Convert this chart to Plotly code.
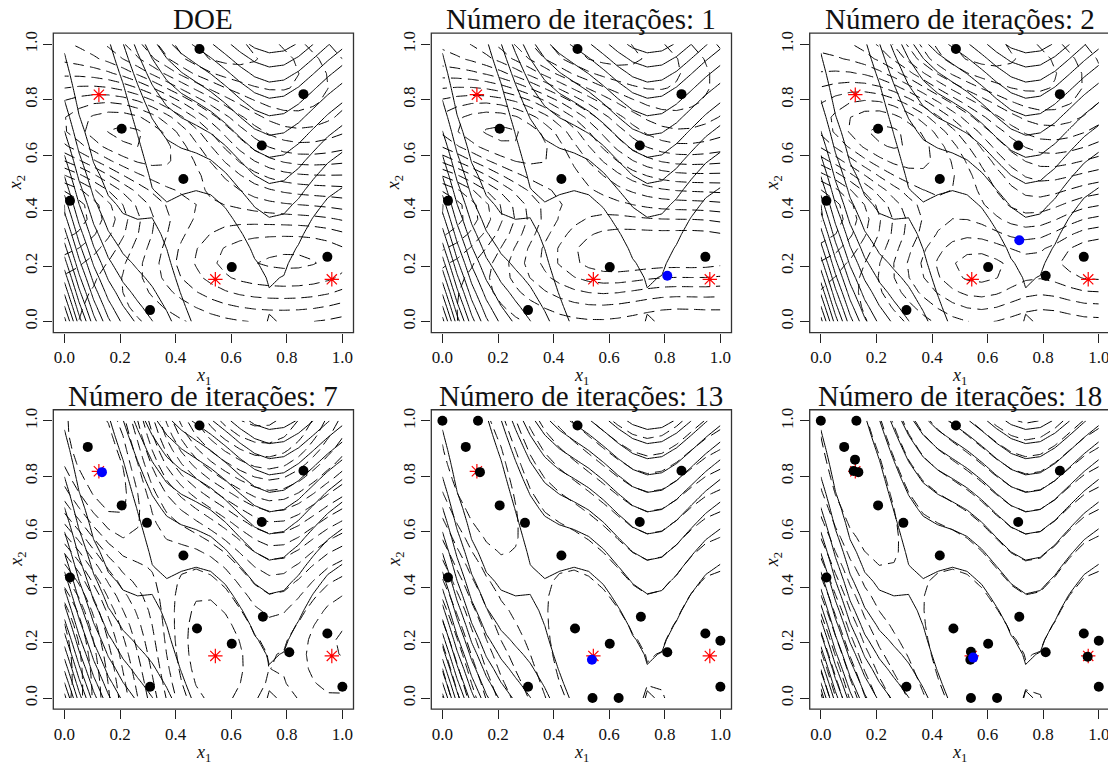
import numpy as np
import plotly.graph_objects as go

# ---------------- data ----------------
# initial design (9-point LHS)
doe_x1 = [0.486, 0.860, 0.206, 0.710, 0.428, 0.020, 0.602, 0.946, 0.308]
doe_x2 = [0.983, 0.820, 0.695, 0.635, 0.514, 0.435, 0.196, 0.233, 0.041]
# points added by EGO, in the order of the iterations
added_x1 = [0.809, 0.714, 0.084, 0.297, 0.477, 1.000, 0.135,
            0.000, 0.128, 1.000, 0.540, 0.634, 0.538,
            0.123, 0.118, 0.540, 0.960, 0.548]
added_x2 = [0.165, 0.293, 0.906, 0.632, 0.251, 0.041, 0.815,
            1.000, 1.000, 0.207, 0.000, 0.000, 0.138,
            0.860, 0.819, 0.167, 0.149, 0.146]
# global minima of the (scaled) Branin function
min_x1 = [0.124, 0.543, 0.962]
min_x2 = [0.818, 0.152, 0.152]
# iterations shown in each panel
iterations = [0, 1, 2, 7, 13, 18]
titles = ["DOE", "Número de iterações: 1", "Número de iterações: 2",
          "Número de iterações: 7", "Número de iterações: 13", "Número de iterações: 18"]
# contour spacing of the true function (solid) and of the kriging model (dashed)
true_level_step = 20
model_level_step = [10, 10, 10, 10, 20, 20]
tick_vals = [0.0, 0.2, 0.4, 0.6, 0.8, 1.0]
tick_text = ["0.0", "0.2", "0.4", "0.6", "0.8", "1.0"]
N_GRID = 20


# ---------------- model ----------------
def branin(x1, x2):
    a = 15 * np.asarray(x1) - 5
    b = 15 * np.asarray(x2)
    return ((b - 5.1 / (4 * np.pi ** 2) * a ** 2 + 5 / np.pi * a - 6) ** 2
            + 10 * (1 - 1 / (8 * np.pi)) * np.cos(a) + 10)


def matern52(h, theta):
    r = np.sqrt(5) * np.abs(h) / theta
    return (1 + r + r ** 2 / 3) * np.exp(-r)


def corr(A, B, theta):
    K = np.ones((len(A), len(B)))
    for d in range(2):
        K *= matern52(A[:, None, d] - B[None, :, d], theta[d])
    return K


def krige(X, y, G):
    n = len(y)
    ones = np.ones(n)
    best = None
    thetas = np.exp(np.linspace(np.log(0.03), np.log(2.0), 45))
    for t1 in thetas:
        for t2 in thetas:
            R = corr(X, X, (t1, t2)) + 1e-7 * np.eye(n)
            try:
                L = np.linalg.cholesky(R)
            except np.linalg.LinAlgError:
                continue
            Ri_y = np.linalg.solve(R, y)
            Ri_1 = np.linalg.solve(R, ones)
            beta = (ones @ Ri_y) / (ones @ Ri_1)
            Ri_res = Ri_y - beta * Ri_1
            s2 = (y - beta) @ Ri_res / n
            if not np.isfinite(s2) or s2 <= 0:
                continue
            ll = -0.5 * n * np.log(s2) - np.sum(np.log(np.diag(L)))
            if best is None or ll > best[0]:
                best = (ll, (t1, t2), beta, Ri_res)
    _, th, beta, Ri_res = best
    return beta + corr(G, X, th) @ Ri_res


grid = np.linspace(0, 1, N_GRID)
GX1, GX2 = np.meshgrid(grid, grid)
G = np.column_stack([GX1.ravel(), GX2.ravel()])
Z_true = branin(GX1, GX2)

# ---------------- layout geometry (pixels of the reference) ----------------
W, H = 1116, 762
OFF = 8  # page body margin of the html page
col_left = [53.3, 431.3, 809.7]
row_top = [31.2, 408.8]
BOX = 300.2
SERIF = "Liberation Serif"


def px_x(p):
    return (p - OFF) / W


def px_y(p):
    return 1 - (p - OFF) / H


def contour_trace(z, step, dash, xa, ya):
    lo, hi = float(z.min()), float(z.max())
    start = np.ceil(lo / step) * step
    end = np.floor(hi / step) * step
    return go.Contour(
        x=grid, y=grid, z=z, xaxis=xa, yaxis=ya, showscale=False, hoverinfo="skip",
        autocontour=False,
        contours=dict(start=start, end=end, size=step, coloring="none", showlabels=False),
        line=dict(color="black", width=1, dash=dash, smoothing=0),
    )


fig = go.Figure()
annotations = []
shapes = []
layout_axes = {}

for k, it in enumerate(iterations):
    r, c = divmod(k, 3)
    idx = "" if k == 0 else str(k + 1)
    xa, ya = "x" + idx, "y" + idx
    L, T = col_left[c], row_top[r]

    px1 = doe_x1 + added_x1[:it]
    px2 = doe_x2 + added_x2[:it]
    X = np.column_stack([px1, px2])
    y = branin(X[:, 0], X[:, 1])
    Z_pred = krige(X, y, G).reshape(GX1.shape)

    fig.add_trace(contour_trace(Z_true, true_level_step, "solid", xa, ya))
    fig.add_trace(contour_trace(Z_pred, model_level_step[k], "11px,6px", xa, ya))
    fig.add_trace(go.Scatter(
        x=min_x1, y=min_x2, mode="markers", xaxis=xa, yaxis=ya, hoverinfo="skip",
        marker=dict(symbol="asterisk-open", size=12, color="red", line=dict(color="red", width=1.2)),
        showlegend=False))
    n_black = len(px1) - 1 if it > 0 else len(px1)
    fig.add_trace(go.Scatter(
        x=px1[:n_black], y=px2[:n_black], mode="markers", xaxis=xa, yaxis=ya, hoverinfo="skip",
        marker=dict(symbol="circle", size=10, color="black"), showlegend=False))
    if it > 0:
        fig.add_trace(go.Scatter(
            x=px1[n_black:], y=px2[n_black:], mode="markers", xaxis=xa, yaxis=ya, hoverinfo="skip",
            marker=dict(symbol="circle", size=10, color="#0000ff"), showlegend=False))

    common = dict(range=[-0.04, 1.04], showgrid=False, zeroline=False, showline=False,
                  ticks="outside", ticklen=9, tickcolor="#222", tickwidth=1,
                  tickvals=tick_vals, ticktext=tick_text,
                  tickfont=dict(family=SERIF, size=17, color="#111"), fixedrange=True)
    layout_axes["xaxis" + idx] = dict(common, domain=[px_x(L), px_x(L + BOX)], anchor=ya)
    layout_axes["yaxis" + idx] = dict(common, domain=[px_y(T + BOX), px_y(T)], anchor=xa,
                                      tickangle=-90)
    shapes.append(dict(type="rect", xref=xa + " domain", yref=ya + " domain",
                       x0=0, x1=1, y0=0, y1=1, line=dict(color="#333", width=1.3),
                       fillcolor="rgba(0,0,0,0)", layer="above"))

    # panel title
    annotations.append(dict(text=titles[k], x=px_x(L + BOX / 2), y=px_y(T + 4),
                            xref="paper", yref="paper", xanchor="center", yanchor="bottom",
                            showarrow=False, font=dict(family=SERIF, size=29, color="#111")))
    # axis titles
    annotations.append(dict(text="<i>x</i><sub>1</sub>", x=px_x(L + BOX / 2), y=px_y(T + BOX + 44),
                            xref="paper", yref="paper", xanchor="center", yanchor="middle",
                            showarrow=False, font=dict(family=SERIF, size=18, color="#111")))
    annotations.append(dict(text="<i>x</i><sub>2</sub>", x=px_x(L - 36), y=px_y(T + BOX / 2),
                            xref="paper", yref="paper", xanchor="center", yanchor="middle",
                            textangle=-90, showarrow=False,
                            font=dict(family=SERIF, size=18, color="#111")))

fig.update_layout(
    width=W, height=H, margin=dict(l=0, r=0, t=0, b=0),
    paper_bgcolor="white", plot_bgcolor="white", showlegend=False,
    annotations=annotations, shapes=shapes, **layout_axes)

fig.write_html("out.html")
